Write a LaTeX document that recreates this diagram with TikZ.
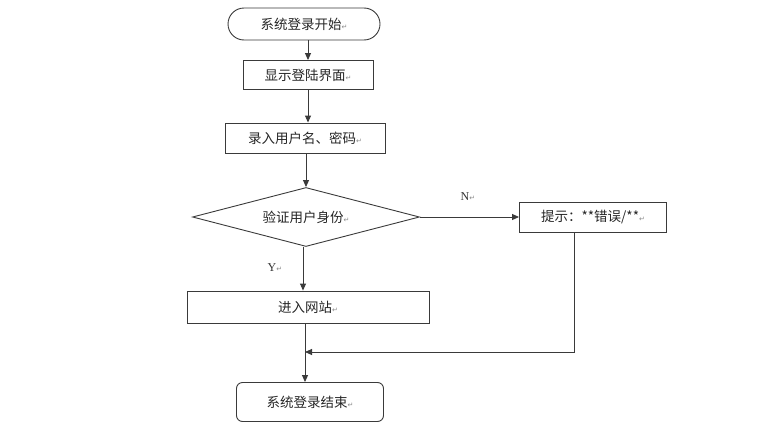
\documentclass[tikz,border=0pt]{standalone}
\usepackage{fontspec}
\setmainfont{Liberation Serif}
\newfontfamily\cjk{Noto Sans CJK SC}
\newfontfamily\symf{DejaVu Sans}
\usetikzlibrary{shapes.geometric,arrows.meta}
\definecolor{ln}{HTML}{3A3A3A}
\definecolor{pm}{HTML}{8A8A8A}
\newcommand{\pmark}{{\symf\fontsize{7pt}{8pt}\selectfont\textcolor{pm}{↵}}}
\tikzset{
  base/.style={draw=ln, line width=0.9pt, inner sep=0pt, font=\cjk\fontsize{13.5pt}{15pt}\selectfont, text=black!85},
  boxn/.style={base, rectangle},
  startn/.style={base, rectangle, rounded corners=16pt},
  endn/.style={base, rectangle, rounded corners=6pt},
  decn/.style={base, diamond, aspect=3.85},
  conn/.style={draw=ln, line width=0.9pt, -{Triangle[length=7pt,width=6pt]}},
  lbl/.style={font=\fontsize{12pt}{14pt}\selectfont, text=black!80},
}
\begin{document}
\begin{tikzpicture}[x=1pt,y=-1pt]
\useasboundingbox (0,0) rectangle (779,434);
\node[startn, minimum width=152pt, minimum height=32pt] (start) at (304,24) {系统登录开始\pmark};
\node[boxn, minimum width=130pt, minimum height=29pt] (show) at (308,75) {显示登陆界面\pmark};
\node[boxn, minimum width=160pt, minimum height=30pt] (input) at (305,138) {录入用户名、密码\pmark};
\node[decn, minimum width=227pt, minimum height=59pt] (check) at (306,217) {验证用户身份\pmark};
\node[boxn, minimum width=147pt, minimum height=30pt] (err) at (593,217) {提示：**错误/**\pmark};
\node[boxn, minimum width=242pt, minimum height=32pt] (enter) at (308,307) {进入网站\pmark};
\node[endn, minimum width=147pt, minimum height=39pt] (end) at (310,402) {系统登录结束\pmark};
\node[lbl] (nl) at (468,197) {N\pmark};
\node[lbl] (yl) at (275,268) {Y\pmark};
\coordinate (fb) at (574,352);
\coordinate (join) at (305,352);
\draw[conn] (start.south -| show) -- (show.north);
\draw[conn] (show.south) -- (show.south |- input.north);
\draw[conn] (input.south -| check) -- (check.north);
\draw[conn] (check.east) -- (err.west);
\draw[conn] (check.south -| 303,0) -- (303,0 |- enter.north);
\draw[conn] (join |- enter.south) -- (join |- end.north);
\draw[conn] (err.south -| fb) -- (fb) -- (join);
\end{tikzpicture}
\end{document}
